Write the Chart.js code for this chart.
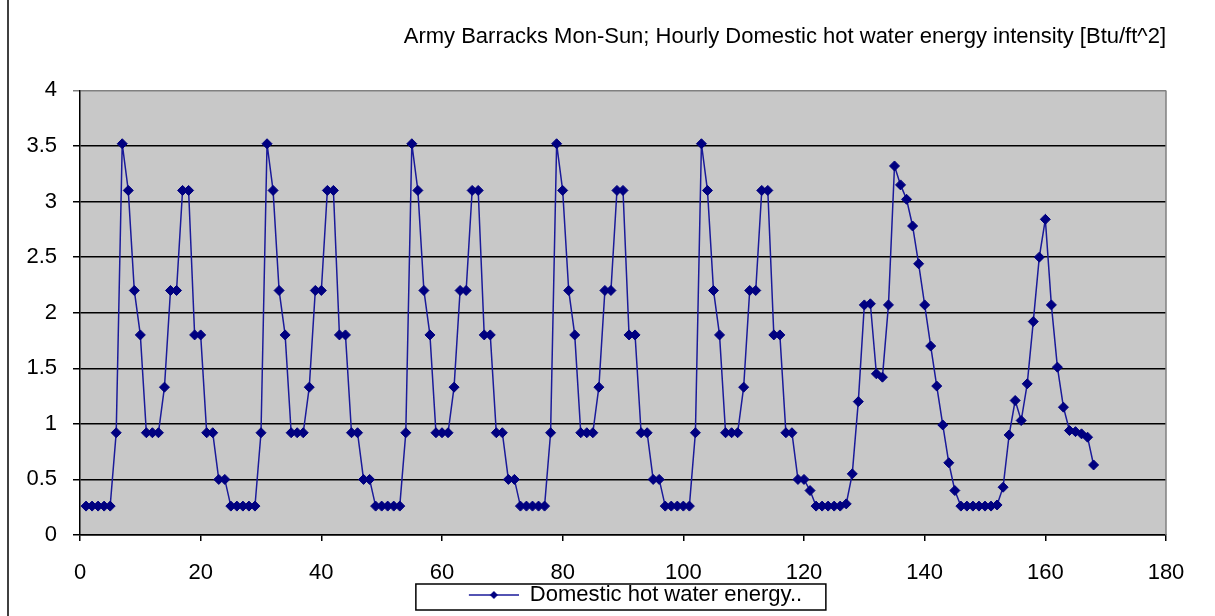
<!DOCTYPE html>
<html>
<head>
<meta charset="utf-8">
<title>Army Barracks hot water</title>
<script src="https://cdn.jsdelivr.net/npm/chart.js@4.4.1/dist/chart.umd.min.js"></script>
<style>
  html, body { margin: 0; padding: 0; background: #fff; }
</style>
</head>
<body>
<canvas id="chart" width="1215" height="616"></canvas>
<script>
// Hour of the week (Mon 1 .. Sun 168)
const hours = [
  1, 2, 3, 4, 5, 6, 7, 8, 9, 10, 11, 12, 13, 14, 15, 16, 17, 18, 19, 20, 21, 22, 23, 24,
  25, 26, 27, 28, 29, 30, 31, 32, 33, 34, 35, 36, 37, 38, 39, 40, 41, 42, 43, 44, 45, 46, 47, 48,
  49, 50, 51, 52, 53, 54, 55, 56, 57, 58, 59, 60, 61, 62, 63, 64, 65, 66, 67, 68, 69, 70, 71, 72,
  73, 74, 75, 76, 77, 78, 79, 80, 81, 82, 83, 84, 85, 86, 87, 88, 89, 90, 91, 92, 93, 94, 95, 96,
  97, 98, 99, 100, 101, 102, 103, 104, 105, 106, 107, 108, 109, 110, 111, 112, 113, 114, 115, 116, 117, 118, 119, 120,
  121, 122, 123, 124, 125, 126, 127, 128, 129, 130, 131, 132, 133, 134, 135, 136, 137, 138, 139, 140, 141, 142, 143, 144,
  145, 146, 147, 148, 149, 150, 151, 152, 153, 154, 155, 156, 157, 158, 159, 160, 161, 162, 163, 164, 165, 166, 167, 168
];

// Btu/ft^2 per hour, one array per day
const monday    = [0.26, 0.26, 0.26, 0.26, 0.26, 0.92, 3.52, 3.1, 2.2, 1.8, 0.92, 0.92, 0.92, 1.33, 2.2, 2.2, 3.1, 3.1, 1.8, 1.8, 0.92, 0.92, 0.5, 0.5];
const tuesday   = [0.26, 0.26, 0.26, 0.26, 0.26, 0.92, 3.52, 3.1, 2.2, 1.8, 0.92, 0.92, 0.92, 1.33, 2.2, 2.2, 3.1, 3.1, 1.8, 1.8, 0.92, 0.92, 0.5, 0.5];
const wednesday = [0.26, 0.26, 0.26, 0.26, 0.26, 0.92, 3.52, 3.1, 2.2, 1.8, 0.92, 0.92, 0.92, 1.33, 2.2, 2.2, 3.1, 3.1, 1.8, 1.8, 0.92, 0.92, 0.5, 0.5];
const thursday  = [0.26, 0.26, 0.26, 0.26, 0.26, 0.92, 3.52, 3.1, 2.2, 1.8, 0.92, 0.92, 0.92, 1.33, 2.2, 2.2, 3.1, 3.1, 1.8, 1.8, 0.92, 0.92, 0.5, 0.5];
const friday    = [0.26, 0.26, 0.26, 0.26, 0.26, 0.92, 3.52, 3.1, 2.2, 1.8, 0.92, 0.92, 0.92, 1.33, 2.2, 2.2, 3.1, 3.1, 1.8, 1.8, 0.92, 0.92, 0.5, 0.5];
const saturday  = [0.4, 0.26, 0.26, 0.26, 0.26, 0.26, 0.28, 0.55, 1.2, 2.07, 2.08, 1.45, 1.42, 2.07, 3.32, 3.15, 3.02, 2.78, 2.44, 2.07, 1.7, 1.34, 0.99, 0.65];
const sunday    = [0.4, 0.26, 0.26, 0.26, 0.26, 0.26, 0.26, 0.27, 0.43, 0.9, 1.21, 1.03, 1.36, 1.92, 2.5, 2.84, 2.07, 1.51, 1.15, 0.94, 0.93, 0.91, 0.88, 0.63];
const intensity = [].concat(monday, tuesday, wednesday, thursday, friday, saturday, sunday);

const seriesName = 'Domestic hot water energy..';
const titleText = 'Army Barracks Mon-Sun; Hourly Domestic hot water energy intensity [Btu/ft^2]';

const navy = '#000080';
const sampleWidth = 155;
Chart.defaults.font.family = '"Liberation Sans", Arial, sans-serif';
Chart.defaults.color = '#000';

// legend glyph: line with a diamond, pushed to the right of a wide box
function makeSample() {
  const c = document.createElement('canvas');
  c.width = sampleWidth;
  c.height = 14;
  const g = c.getContext('2d');
  g.strokeStyle = '#1a1a9a';
  g.lineWidth = 1.5;
  g.beginPath();
  g.moveTo(sampleWidth - 50, 7);
  g.lineTo(sampleWidth, 7);
  g.stroke();
  g.fillStyle = navy;
  g.beginPath();
  g.moveTo(sampleWidth - 29, 7);
  g.lineTo(sampleWidth - 25, 3);
  g.lineTo(sampleWidth - 21, 7);
  g.lineTo(sampleWidth - 25, 11);
  g.closePath();
  g.fill();
  return c;
}

const plotFrame = {
  id: 'plotFrame',
  beforeDraw(chart) {
    const { ctx, chartArea: a } = chart;
    ctx.save();
    ctx.fillStyle = '#c8c8c8';
    ctx.fillRect(a.left, a.top, a.right - a.left, a.bottom - a.top);
    ctx.strokeStyle = '#000';
    ctx.lineWidth = 1.5;
    ctx.beginPath();
    ctx.moveTo(8, 0);
    ctx.lineTo(8, chart.height);
    ctx.stroke();
    ctx.restore();
  },
  beforeDatasetsDraw(chart) {
    const { ctx, chartArea: a } = chart;
    ctx.save();
    ctx.strokeStyle = '#808080';
    ctx.lineWidth = 1.5;
    ctx.beginPath();
    ctx.moveTo(a.right, a.top);
    ctx.lineTo(a.right, a.bottom);
    ctx.stroke();
    ctx.restore();
  }
};

const legendFrame = {
  id: 'legendFrame',
  afterDraw(chart) {
    const hit = chart.legend.legendHitBoxes[0];
    if (!hit) return;
    const { ctx } = chart;
    ctx.save();
    ctx.strokeStyle = '#000';
    ctx.lineWidth = 1.5;
    ctx.strokeRect(hit.left + sampleWidth - 103, hit.top, 410, 26);
    ctx.restore();
  }
};

new Chart(document.getElementById('chart'), {
  type: 'scatter',
  data: {
    datasets: [{
      label: seriesName,
      data: hours.map((h, i) => ({ x: h, y: intensity[i] })),
      showLine: true,
      borderColor: '#1a1a9a',
      borderWidth: 1.5,
      pointStyle: 'rectRot',
      pointRadius: 5,
      pointBackgroundColor: navy,
      pointBorderColor: navy,
      pointBorderWidth: 1
    }]
  },
  options: {
    responsive: false,
    animation: false,
    layout: { padding: { left: 0, right: 49, top: 0, bottom: 0 } },
    plugins: {
      title: {
        display: true,
        text: titleText,
        align: 'end',
        color: '#000',
        font: { size: 22, weight: 'normal' },
        padding: { top: 24, bottom: 40 }
      },
      legend: {
        position: 'bottom',
        labels: {
          usePointStyle: true,
          pointStyle: makeSample(),
          pointStyleWidth: sampleWidth,
          padding: 0,
          color: '#000',
          font: { size: 22 }
        }
      },
      tooltip: { enabled: false }
    },
    scales: {
      x: {
        type: 'linear',
        min: 0,
        max: 180,
        ticks: { stepSize: 20, padding: 19, font: { size: 22 }, color: '#000' },
        grid: { drawOnChartArea: false, tickLength: 6, color: '#000', lineWidth: 1.5 },
        border: { color: '#000', width: 1.5 },
        afterFit(scale) { scale.height = 49; }
      },
      y: {
        min: 0,
        max: 4,
        ticks: {
          stepSize: 0.5,
          padding: 16,
          font: { size: 22 },
          color: '#000',
          callback: (v) => String(v)
        },
        grid: {
          color: (c) => (c.tick && c.tick.value === 4 ? '#808080' : '#000'),
          lineWidth: 1.5,
          tickLength: 7
        },
        border: { color: '#000', width: 1.5 },
        afterFit(scale) { scale.width = 80; }
      }
    }
  },
  plugins: [plotFrame, legendFrame]
});
</script>
</body>
</html>
